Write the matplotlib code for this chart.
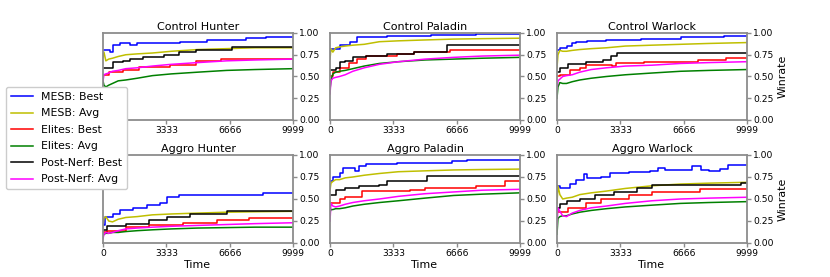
import matplotlib
matplotlib.use("Agg")
import matplotlib.pyplot as plt

# ---------------- data ----------------
titles = ["Control Hunter", "Control Paladin", "Control Warlock",
          "Aggro Hunter", "Aggro Paladin", "Aggro Warlock"]
series_labels = ["MESB: Best", "MESB: Avg", "Elites: Best", "Elites: Avg",
                 "Post-Nerf: Best", "Post-Nerf: Avg"]
x_ticks = [0, 3333, 6666, 9999]
y_ticks = [0.0, 0.25, 0.5, 0.75, 1.0]

# shared time grid for the averaged curves
avg_t = [0, 50, 150, 300, 500, 800, 1200, 1800, 2600, 3600, 5000, 6500, 8000, 9999]

# Control Hunter
ch_mesb_best_t = [0, 350, 550, 900, 1400, 1800, 4050, 5450, 7550, 8600, 9999]
ch_mesb_best_v = [0.80, 0.78, 0.86, 0.88, 0.86, 0.88, 0.90, 0.92, 0.94, 0.95, 0.95]
ch_mesb_avg = [0.72, 0.78, 0.68, 0.70, 0.71, 0.73, 0.75, 0.76, 0.77, 0.79, 0.81, 0.82, 0.83, 0.83]
ch_elite_best_t = [0, 300, 1050, 1900, 3500, 4900, 6200, 9999]
ch_elite_best_v = [0.52, 0.55, 0.58, 0.61, 0.63, 0.68, 0.70, 0.70]
ch_elite_avg = [0.45, 0.40, 0.38, 0.40, 0.42, 0.45, 0.46, 0.48, 0.51, 0.53, 0.55, 0.57, 0.58, 0.59]
ch_nerf_best_t = [0, 550, 1050, 1400, 2100, 3200, 4000, 4900, 6800, 9999]
ch_nerf_best_v = [0.60, 0.67, 0.68, 0.70, 0.72, 0.75, 0.78, 0.81, 0.84, 0.84]
ch_nerf_avg = [0.45, 0.52, 0.53, 0.54, 0.56, 0.57, 0.59, 0.60, 0.62, 0.64, 0.66, 0.68, 0.69, 0.70]

# Control Paladin
cp_mesb_best_t = [0, 500, 1050, 1400, 3000, 5300, 7700, 9999]
cp_mesb_best_v = [0.82, 0.86, 0.90, 0.95, 0.97, 0.98, 0.99, 0.99]
cp_mesb_avg = [0.70, 0.82, 0.78, 0.83, 0.84, 0.85, 0.86, 0.87, 0.90, 0.91, 0.92, 0.93, 0.935, 0.94]
cp_elite_best_t = [0, 150, 500, 1000, 1400, 1900, 3500, 4400, 6300, 9999]
cp_elite_best_v = [0.50, 0.55, 0.60, 0.66, 0.70, 0.74, 0.76, 0.78, 0.81, 0.81]
cp_elite_avg = [0.35, 0.45, 0.53, 0.55, 0.56, 0.57, 0.59, 0.62, 0.65, 0.67, 0.69, 0.70, 0.71, 0.72]
cp_nerf_best_t = [0, 300, 550, 800, 1200, 1900, 3000, 4400, 6150, 9999]
cp_nerf_best_v = [0.57, 0.60, 0.67, 0.68, 0.72, 0.73, 0.76, 0.78, 0.86, 0.86]
cp_nerf_avg = [0.30, 0.45, 0.48, 0.49, 0.50, 0.52, 0.56, 0.60, 0.64, 0.67, 0.70, 0.72, 0.735, 0.745]

# Control Warlock
cw_mesb_best_t = [0, 150, 500, 800, 1000, 1600, 2600, 4400, 6500, 8800, 9999]
cw_mesb_best_v = [0.80, 0.83, 0.85, 0.88, 0.90, 0.91, 0.92, 0.93, 0.95, 0.96, 0.96]
cw_mesb_avg = [0.60, 0.75, 0.80, 0.79, 0.79, 0.80, 0.81, 0.82, 0.83, 0.85, 0.86, 0.87, 0.88, 0.89]
cw_elite_best_t = [0, 150, 700, 1200, 1500, 2900, 3100, 4600, 7400, 8900, 9999]
cw_elite_best_v = [0.50, 0.52, 0.57, 0.60, 0.63, 0.62, 0.66, 0.67, 0.69, 0.71, 0.71]
cw_elite_avg = [0.25, 0.38, 0.43, 0.42, 0.42, 0.44, 0.46, 0.48, 0.50, 0.52, 0.54, 0.56, 0.57, 0.58]
cw_nerf_best_t = [0, 150, 600, 1500, 2400, 2850, 3150, 9999]
cw_nerf_best_v = [0.55, 0.60, 0.64, 0.67, 0.69, 0.73, 0.77, 0.77]
cw_nerf_avg = [0.35, 0.45, 0.47, 0.50, 0.51, 0.52, 0.55, 0.58, 0.60, 0.62, 0.63, 0.65, 0.66, 0.67]

# Aggro Hunter
ah_mesb_best_t = [0, 100, 500, 900, 1600, 2300, 3000, 3350, 4000, 8400, 9999]
ah_mesb_best_v = [0.20, 0.30, 0.33, 0.37, 0.40, 0.43, 0.45, 0.52, 0.54, 0.57, 0.57]
ah_mesb_avg = [0.20, 0.28, 0.30, 0.25, 0.24, 0.27, 0.29, 0.30, 0.32, 0.33, 0.34, 0.35, 0.355, 0.36]
ah_elite_best_t = [0, 200, 1200, 2400, 4200, 6000, 7700, 9999]
ah_elite_best_v = [0.12, 0.14, 0.18, 0.20, 0.23, 0.26, 0.28, 0.28]
ah_elite_avg = [0.08, 0.10, 0.11, 0.11, 0.12, 0.12, 0.13, 0.14, 0.15, 0.16, 0.17, 0.175, 0.18, 0.18]
ah_nerf_best_t = [0, 200, 1200, 2400, 3350, 4600, 6500, 9999]
ah_nerf_best_v = [0.15, 0.19, 0.22, 0.26, 0.29, 0.33, 0.36, 0.36]
ah_nerf_avg = [0.05, 0.10, 0.12, 0.11, 0.12, 0.14, 0.16, 0.17, 0.18, 0.19, 0.20, 0.21, 0.22, 0.23]

# Aggro Paladin
ap_mesb_best_t = [0, 150, 500, 700, 1300, 1500, 1700, 1900, 3500, 6400, 7200, 9999]
ap_mesb_best_v = [0.70, 0.75, 0.80, 0.85, 0.82, 0.88, 0.87, 0.90, 0.91, 0.93, 0.94, 0.94]
ap_mesb_avg = [0.60, 0.68, 0.70, 0.72, 0.72, 0.74, 0.75, 0.77, 0.79, 0.81, 0.82, 0.83, 0.835, 0.84]
ap_elite_best_t = [0, 500, 800, 1700, 4200, 5000, 7700, 9200, 9999]
ap_elite_best_v = [0.45, 0.50, 0.52, 0.59, 0.60, 0.62, 0.65, 0.71, 0.71]
ap_elite_avg = [0.35, 0.38, 0.38, 0.39, 0.39, 0.40, 0.42, 0.44, 0.46, 0.48, 0.51, 0.54, 0.555, 0.57]
ap_nerf_best_t = [0, 300, 800, 1500, 2600, 3000, 5100, 9999]
ap_nerf_best_v = [0.55, 0.60, 0.62, 0.65, 0.66, 0.70, 0.76, 0.76]
ap_nerf_avg = [0.25, 0.45, 0.42, 0.41, 0.42, 0.44, 0.46, 0.48, 0.50, 0.53, 0.56, 0.58, 0.60, 0.61]

# Aggro Warlock
aw_mesb_best_t = [0, 150, 700, 1000, 1400, 1600, 2300, 2800, 3800, 4900, 5300, 5700,
                  7100, 7600, 8000, 8600, 9000, 9999]
aw_mesb_best_v = [0.65, 0.63, 0.67, 0.72, 0.78, 0.74, 0.75, 0.79, 0.81, 0.82, 0.85, 0.83,
                  0.87, 0.83, 0.82, 0.84, 0.89, 0.89]
aw_mesb_avg = [0.45, 0.65, 0.55, 0.50, 0.51, 0.52, 0.55, 0.57, 0.59, 0.62, 0.65, 0.67, 0.68, 0.69]
aw_elite_best_t = [0, 600, 1500, 2300, 3800, 5000, 7500, 9999]
aw_elite_best_v = [0.35, 0.40, 0.45, 0.50, 0.55, 0.58, 0.61, 0.61]
aw_elite_avg = [0.10, 0.28, 0.30, 0.31, 0.31, 0.33, 0.35, 0.37, 0.39, 0.41, 0.43, 0.45, 0.46, 0.47]
aw_nerf_best_t = [0, 150, 500, 1200, 2000, 3000, 4200, 5000, 9700, 9999]
aw_nerf_best_v = [0.40, 0.44, 0.48, 0.50, 0.55, 0.58, 0.62, 0.66, 0.68, 0.68]
aw_nerf_avg = [0.20, 0.40, 0.36, 0.31, 0.30, 0.34, 0.37, 0.40, 0.42, 0.45, 0.48, 0.50, 0.51, 0.52]

panels = [
    (ch_mesb_best_t, ch_mesb_best_v, ch_mesb_avg, ch_elite_best_t, ch_elite_best_v, ch_elite_avg,
     ch_nerf_best_t, ch_nerf_best_v, ch_nerf_avg),
    (cp_mesb_best_t, cp_mesb_best_v, cp_mesb_avg, cp_elite_best_t, cp_elite_best_v, cp_elite_avg,
     cp_nerf_best_t, cp_nerf_best_v, cp_nerf_avg),
    (cw_mesb_best_t, cw_mesb_best_v, cw_mesb_avg, cw_elite_best_t, cw_elite_best_v, cw_elite_avg,
     cw_nerf_best_t, cw_nerf_best_v, cw_nerf_avg),
    (ah_mesb_best_t, ah_mesb_best_v, ah_mesb_avg, ah_elite_best_t, ah_elite_best_v, ah_elite_avg,
     ah_nerf_best_t, ah_nerf_best_v, ah_nerf_avg),
    (ap_mesb_best_t, ap_mesb_best_v, ap_mesb_avg, ap_elite_best_t, ap_elite_best_v, ap_elite_avg,
     ap_nerf_best_t, ap_nerf_best_v, ap_nerf_avg),
    (aw_mesb_best_t, aw_mesb_best_v, aw_mesb_avg, aw_elite_best_t, aw_elite_best_v, aw_elite_avg,
     aw_nerf_best_t, aw_nerf_best_v, aw_nerf_avg),
]

colors = ["#0000ff", "#bfbf00", "#ff0000", "#008000", "#000000", "#ff00ff"]

# ---------------- layout ----------------
W, H = 830, 277
fig = plt.figure(figsize=(W / 100, H / 100), dpi=100)
plt.rcParams['font.family'] = ['DejaVu Sans']

col_left = [103, 330, 557]
row_box = [(33, 120), (155, 243)]
ax_w = 190
spine_col = "#8c8c8c"

handles = None
for i, (title, data) in enumerate(zip(titles, panels)):
    r, c = divmod(i, 3)
    top, bot = row_box[r]
    ax = fig.add_axes([col_left[c] / W, 1 - bot / H, ax_w / W, (bot - top) / H])
    (mb_t, mb_v, m_avg, eb_t, eb_v, e_avg, nb_t, nb_v, n_avg) = data
    h = []
    h += ax.plot(mb_t, mb_v, drawstyle="steps-post", color=colors[0], lw=1.1)
    h += ax.plot(avg_t, m_avg, color=colors[1], lw=1.1)
    h += ax.plot(eb_t, eb_v, drawstyle="steps-post", color=colors[2], lw=1.1)
    h += ax.plot(avg_t, e_avg, color=colors[3], lw=1.1)
    h += ax.plot(nb_t, nb_v, drawstyle="steps-post", color=colors[4], lw=1.1)
    h += ax.plot(avg_t, n_avg, color=colors[5], lw=1.1)
    handles = h
    ax.set_xlim(0, 9999)
    ax.set_ylim(0, 1)
    ax.set_xticks(x_ticks)
    ax.set_xticklabels([str(t) for t in x_ticks], fontsize=6.6)
    ax.set_yticks(y_ticks)
    ax.set_yticklabels(["%.2f" % v for v in y_ticks], fontsize=6.6)
    ax.yaxis.tick_right()
    ax.tick_params(axis="both", color=spine_col, length=3.0, width=1.0, pad=1.5)
    for s in ax.spines.values():
        s.set_color(spine_col)
        s.set_linewidth(1.3)
    ax.set_title(title, fontsize=8.0, pad=2.5)
    if r == 1:
        ax.set_xlabel("Time", fontsize=7.9, labelpad=1)
    if c == 2:
        ax.yaxis.set_label_position("right")
        ax.set_ylabel("Winrate", fontsize=7.9, labelpad=3)

leg = fig.legend(handles, series_labels, loc="upper left",
                 bbox_to_anchor=(6 / W, 1 - 87 / H), borderaxespad=0.0, fontsize=7.8,
                 frameon=True, fancybox=True, framealpha=1.0, edgecolor="#cccccc",
                 handlelength=2.0, labelspacing=0.6, borderpad=0.45)
leg.set_zorder(10)

fig.savefig("out.png", dpi=100)
